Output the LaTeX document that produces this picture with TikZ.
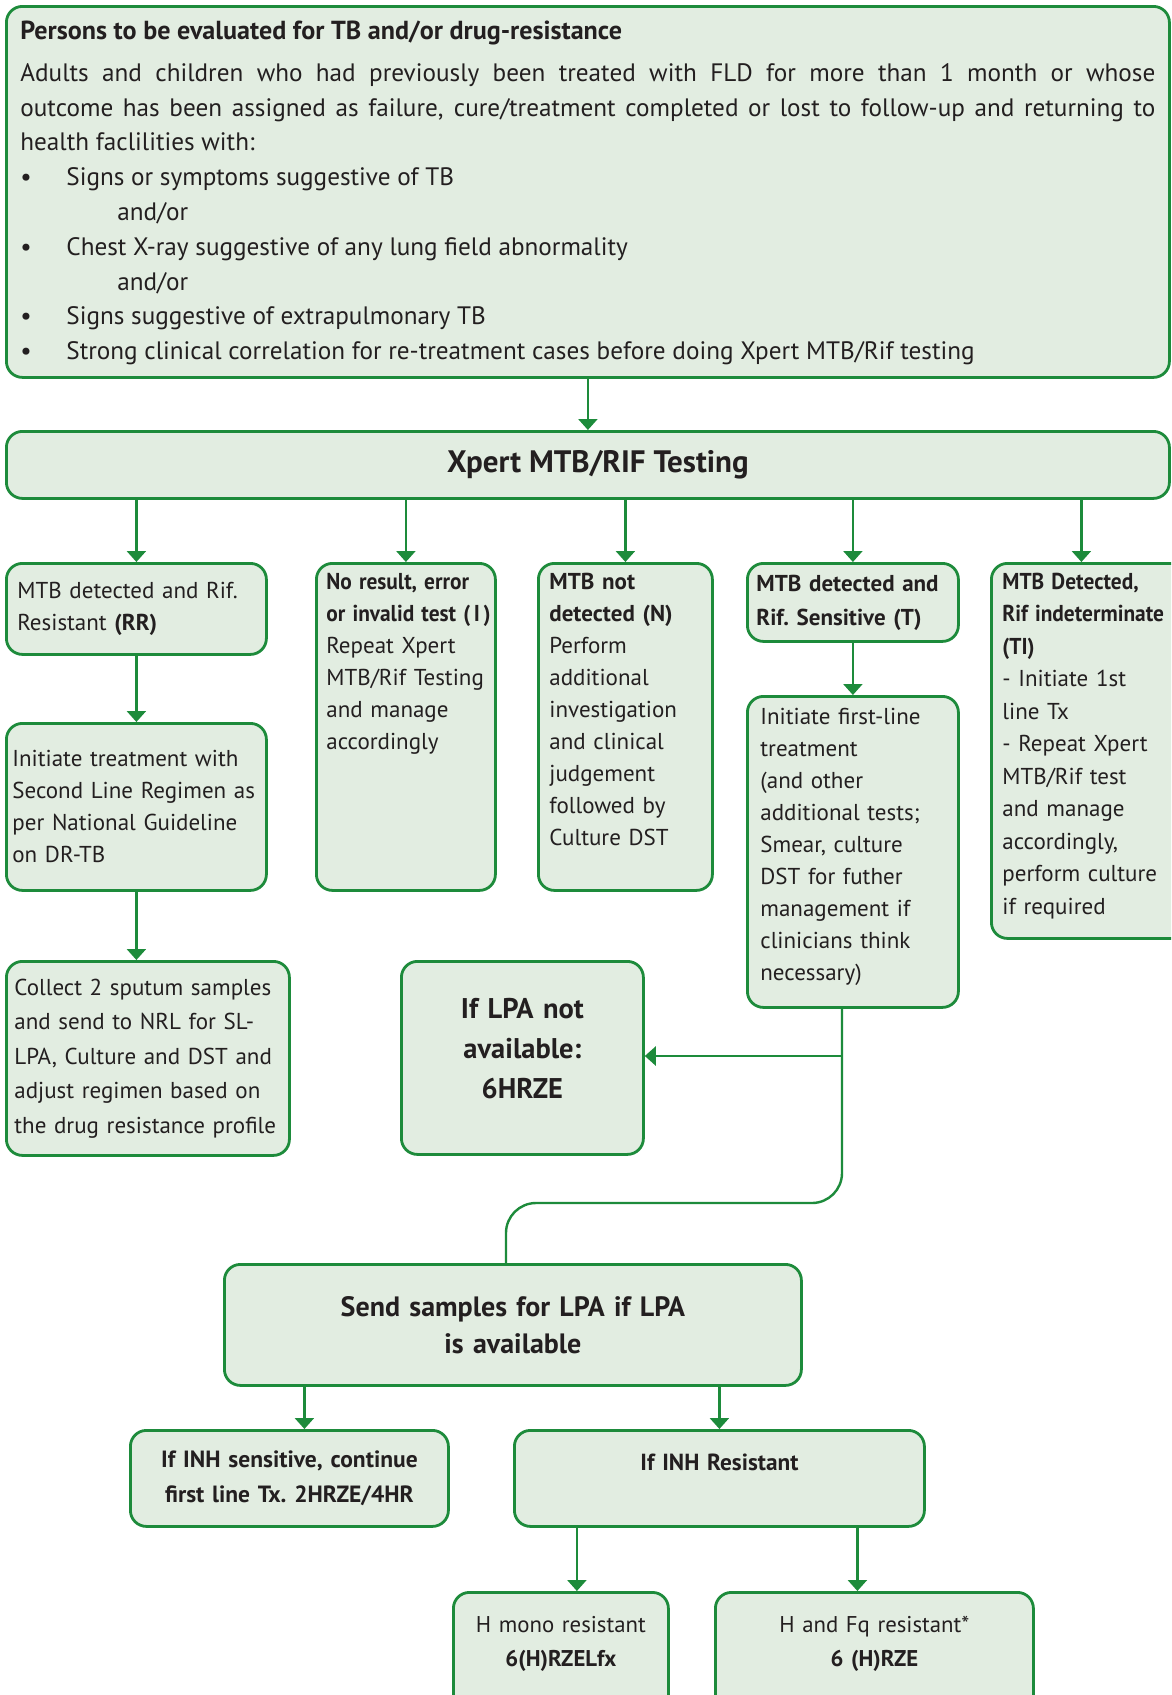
\documentclass[tikz,border=0pt]{standalone}
\usepackage{fontspec}
\setmainfont{PT Sans}
\usepackage{graphicx}
\usetikzlibrary{arrows.meta}

\definecolor{tbgreen}{HTML}{1D8B3B}
\definecolor{tbfill}{HTML}{E2EDE1}
\definecolor{tbtext}{HTML}{231F20}

\newcommand{\cond}[1]{\scalebox{0.93}[1]{\bfseries #1}}

\tikzset{
  box/.style={draw=tbgreen, fill=tbfill, line width=2.8pt, rounded corners=16pt,
    anchor=north west, inner xsep=11pt, inner ysep=10pt, text=tbtext, align=left,
    font=\fontsize{23}{32}\selectfont},
  arr/.style={draw=tbgreen, line width=2.4pt, -{Triangle[width=19pt,length=11pt]}},
  link/.style={draw=tbgreen, line width=2.4pt}
}

\begin{document}
\begin{tikzpicture}[x=1pt, y=-1pt]
  \useasboundingbox (0,0) rectangle (1171,1695);
  \clip (0,0) rectangle (1171,1695);
  \fill[white] (0,0) rectangle (1171,1695);

  % who to test
  \node[box, inner xsep=14pt, inner ysep=17pt, text width=1135pt, align=justify,
        text height=16pt, text depth=321pt, font=\fontsize{25.2}{34.8}\selectfont] (persons) at (5,5)
    {{\fontsize{26.1}{34.8}\selectfont\bfseries Persons to be evaluated for TB and/or drug-resistance}\par\vspace{7pt}
     \makebox[\linewidth][s]{Adults and children who had previously been treated with FLD for more than 1 month or whose}\par
     \makebox[\linewidth][s]{outcome has been assigned as failure, cure/treatment completed or lost to follow-up and returning to}\par
     health faclilities with:\par
     \makebox[46pt][l]{\textbullet}Signs or symptoms suggestive of TB\par
     \hspace*{97pt}and/or\par
     \makebox[46pt][l]{\textbullet}Chest X-ray suggestive of any lung field abnormality\par
     \hspace*{97pt}and/or\par
     \makebox[46pt][l]{\textbullet}Signs suggestive of extrapulmonary TB\par
     \makebox[46pt][l]{\textbullet}Strong clinical correlation for re-treatment cases before doing Xpert MTB/Rif testing};

  \node[box, minimum width=1163pt, minimum height=67pt, align=center,
        font=\bfseries\fontsize{31}{36}\selectfont] (xpert) at (5,430) {\hspace*{20pt}Xpert MTB/RIF Testing};

  % test results
  \node[box, text width=238pt, minimum height=91pt] (rr) at (5,562)
    {MTB detected and Rif.\\Resistant \textbf{(RR)}};
  \node[box, inner xsep=10pt, text width=159pt, text height=16pt, text depth=291pt] (nores) at (315,562)
    {\cond{No result, error}\\\cond{or invalid test (\,I\,)}\\Repeat Xpert\\MTB/Rif Testing\\and manage\\accordingly};
  \node[box, text width=152pt, text height=16pt, text depth=291pt] (notdet) at (537,562)
    {\textbf{MTB not}\\\textbf{detected (N)}\\Perform\\additional\\investigation\\and clinical\\judgement\\followed by\\Culture DST};
  \node[box, inner xsep=9pt, text width=193pt, minimum height=78pt,
        font=\bfseries\fontsize{23}{34}\selectfont] (sens) at (746,562)
    {MTB detected and\\Rif.\ Sensitive (T)};
  \node[box, text width=178pt, text height=16pt, text depth=339pt,
        font=\fontsize{23}{32.5}\selectfont] (indet) at (990,562)
    {\cond{MTB Detected,}\\\cond{Rif indeterminate}\\\cond{(TI)}\\- Initiate 1st\\line Tx\\- Repeat Xpert\\MTB/Rif test\\and manage\\accordingly,\\perform culture\\if required};

  % next steps
  \node[box, inner xsep=6pt, text width=248pt, minimum height=167pt] (initdr) at (5,722)
    {Initiate treatment with\\Second Line Regimen as\\per National Guideline\\on DR-TB};
  \node[box, inner xsep=8pt, text width=267pt, minimum height=194pt,
        font=\fontsize{23}{34.5}\selectfont] (collect) at (5,960)
    {Collect 2 sputum samples\\and send to NRL for SL-\\LPA, Culture and DST and\\adjust regimen based on\\the drug resistance profile};
  \node[box, inner xsep=13pt, inner ysep=12pt, text width=185pt, text height=16pt, text depth=271pt] (first) at (746,695)
    {Initiate first-line\\treatment\\(and other\\additional tests;\\Smear, culture\\DST for futher\\management if\\clinicians think\\necessary)};
  \node[box, align=center, inner ysep=37pt, text width=220pt, text height=20pt, text depth=99pt,
        font=\bfseries\fontsize{28.5}{40}\selectfont] (lpa) at (400,960)
    {If LPA not\\available:\\6HRZE};
  \node[box, align=center, text width=555pt, minimum height=121pt,
        font=\bfseries\fontsize{28}{37}\selectfont] (send) at (223,1263)
    {Send samples for LPA if LPA\\is available};
  \node[box, align=center, text width=296pt, minimum height=96pt,
        font=\bfseries\fontsize{23.5}{35}\selectfont] (inhs) at (129,1429)
    {If INH sensitive, continue\\first line Tx.\ 2HRZE/4HR};
  \node[box, align=center, inner ysep=24pt, text width=388pt, text height=16pt, text depth=32pt,
        font=\bfseries\fontsize{23.3}{35}\selectfont] (inhr) at (513,1429)
    {If INH Resistant};
  \node[box, align=center, inner ysep=24pt, text width=193pt, text height=16pt, text depth=55pt,
        font=\fontsize{22.8}{34}\selectfont] (mono) at (452,1591)
    {H mono resistant\\\textbf{6(H)RZELfx}};
  \node[box, align=center, inner ysep=24pt, text width=296pt, text height=16pt, text depth=55pt,
        font=\fontsize{22.8}{34}\selectfont] (fq) at (714,1591)
    {H and Fq resistant*\\\textbf{6 (H)RZE}};

  \coordinate (fork) at (842,1056);
  \coordinate (bend) at (506,1203);
  \coordinate (t1) at ([xshift=-10pt]indet.north);
  \coordinate (s1) at ([xshift=15pt]inhs.north);
  \coordinate (m1) at ([xshift=16pt]mono.north);
  \coordinate (f1) at ([xshift=-17pt]fq.north);

  \draw[arr] (persons) -- (xpert);
  \foreach \to in {rr,nores,notdet,sens,t1}
    \draw[arr] (xpert.south -| \to) -- (\to |- rr.north);
  \draw[arr] (rr) -- (initdr);
  \draw[arr] (initdr.south) -- (initdr.south |- collect.north);
  \draw[arr] (sens) -- (first);

  \draw[link, rounded corners=30pt] (first.south -| fork) -- (fork) |- (bend) -- (bend |- send.north);
  \draw[arr] (fork) -- (lpa.east |- fork);

  \draw[arr] (send.south -| s1) -- (s1);
  \draw[arr] (send.south -| inhr.north) -- (inhr.north);
  \draw[arr] (inhr.south -| m1) -- (m1);
  \draw[arr] (inhr.south -| f1) -- (f1);

\end{tikzpicture}
\end{document}
